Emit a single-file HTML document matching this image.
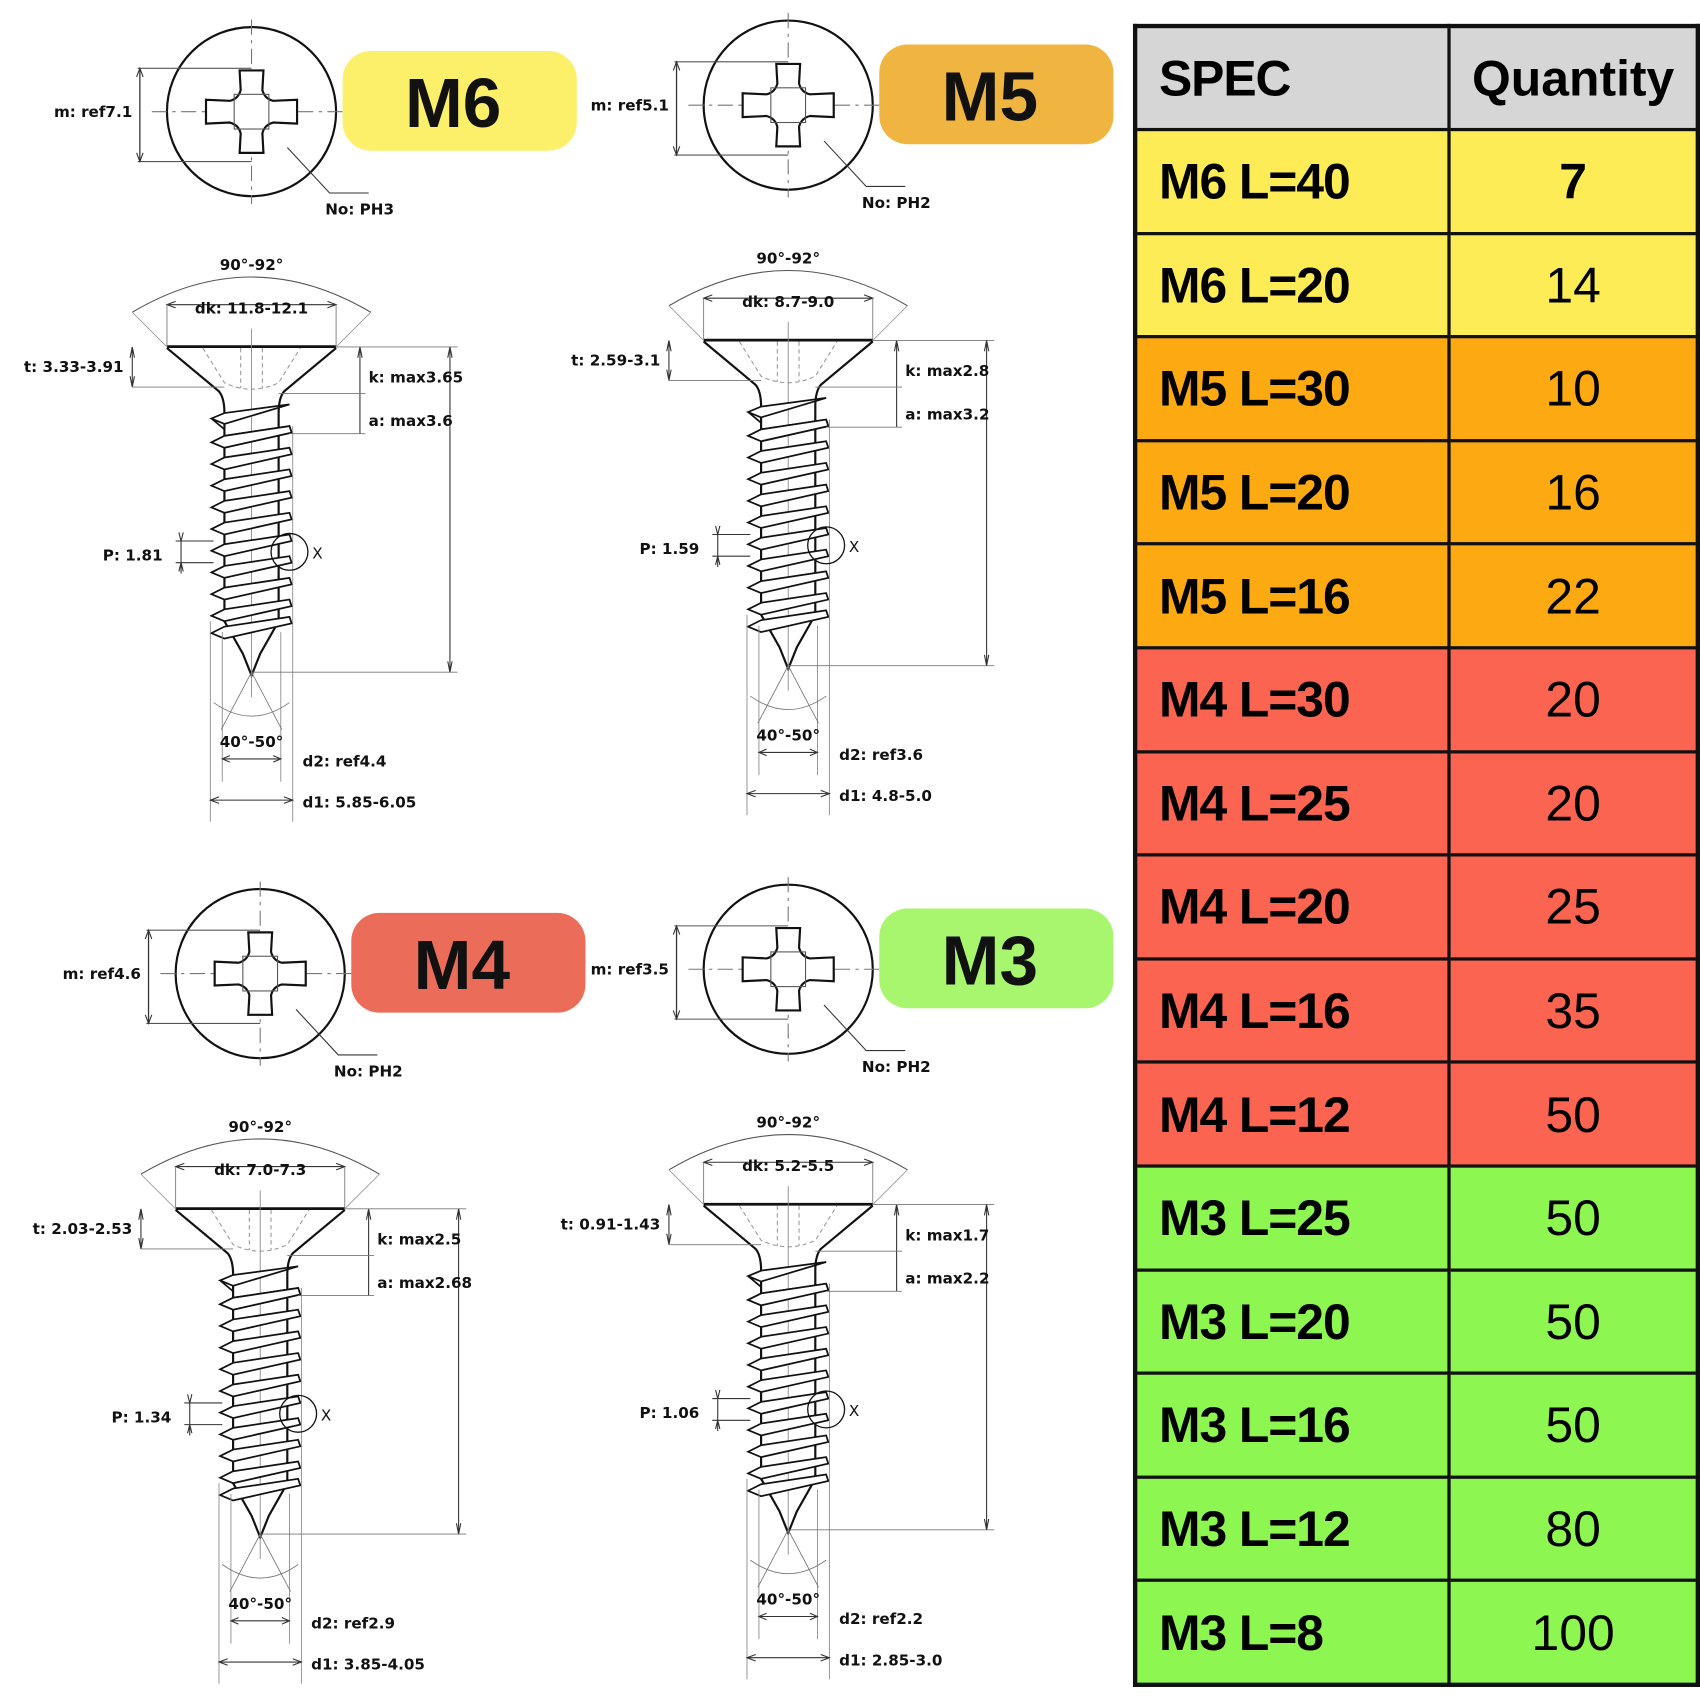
<!DOCTYPE html>
<html><head><meta charset="utf-8">
<style>
html,body{margin:0;padding:0;background:#fff;width:1700px;height:1700px;overflow:hidden}
#wrap{position:absolute;left:0;top:0;width:1568px;height:1568px;transform:scale(1.08418);transform-origin:0 0}
svg{position:absolute;left:0;top:0}
svg text{font-family:"DejaVu Sans","Liberation Sans",sans-serif;font-weight:bold;font-size:14px;fill:#111}
.badge text{font-family:"Liberation Sans",sans-serif;font-size:64px;font-weight:bold}
table{position:absolute;left:1045px;top:22px;border-collapse:collapse;font-family:"Liberation Sans",sans-serif;border:4px solid #111}
td{border:3px solid #111;height:92.6px;padding:0;font-size:46px}
td.s{width:266px;padding-left:20px;font-weight:bold;letter-spacing:-1px}
td.q{width:226px;text-align:center}
tr.h td{background:#d6d6d6;font-weight:bold;height:92px}
tr.y td{background:#fdec55}
tr.o td{background:#fca912}
tr.r td{background:#fb6450}
tr.g td{background:#8ef650}
</style></head><body>
<div id="wrap">
<svg id="draw" width="1040" height="1568">
<defs>
<g id="headview">
<circle cx="0" cy="0" r="78" fill="none" stroke="#111" stroke-width="2"/>
<line x1="-92" y1="0" x2="92" y2="0" stroke="#777" stroke-width="1" stroke-dasharray="14 5 3 5"/>
<line x1="0" y1="-85" x2="0" y2="85" stroke="#777" stroke-width="1" stroke-dasharray="14 5 3 5"/>
<path d="M-11,-38 H11 L10,-20 Q12,-12 20,-10 L42,-11 V11 L20,10 Q12,12 10,20 L11,38 H-11 L-10,20 Q-12,12 -20,10 L-42,11 V-11 L-20,-10 Q-12,-12 -10,-20 Z" fill="#fff" stroke="#111" stroke-width="2"/>
<rect x="-16" y="-16" width="32" height="32" fill="none" stroke="#555" stroke-width="1"/>
<line x1="-105" y1="-40" x2="0" y2="-40" stroke="#555" stroke-width="1"/>
<line x1="-105" y1="46" x2="0" y2="46" stroke="#555" stroke-width="1"/>
<line x1="-103" y1="-40" x2="-103" y2="46" stroke="#333" stroke-width="1.2"/>
<path d="M-106,-32 L-103,-40 L-100,-32 M-106,38 L-103,46 L-100,38" fill="none" stroke="#333"/>
<path d="M33,33 L72,75 H108" fill="none" stroke="#333" stroke-width="1"/>
</g>
<g id="screw" fill="none" stroke="#111">
<path d="M-78,217 H78" stroke-width="3"/>
<path d="M-78,218 L-30,258 Q-25,264 -25,278 V470 L-8,500 L0,520 L8,500 L25,470 V278 Q25,264 30,258 L78,218" stroke-width="2" fill="#fff"/>
<path d="M-45,218 L-25,250 Q0,262 25,250 L45,218 M-10,218 V255 M10,218 V255" stroke="#999" stroke-dasharray="4 3" stroke-width="1"/>
<line x1="0" y1="200" x2="0" y2="540" stroke="#888" stroke-width="0.8"/>
<path d="M-37,283 L-25,278 L35,270 L-25,288 Z M-37,283 L-25,293" stroke-width="1.6" fill="#fff"/>
<g id="thr">
<path d="M-37,305 L-25,299 L35,290 L37,296 L-25,310 Z" stroke-width="1.6" fill="#fff"/>
</g>
<use href="#thr" y="0"/><use href="#thr" y="20"/><use href="#thr" y="40"/><use href="#thr" y="60"/><use href="#thr" y="80"/><use href="#thr" y="100"/><use href="#thr" y="120"/><use href="#thr" y="140"/><use href="#thr" y="160"/><use href="#thr" y="176"/>
<line x1="-38" y1="470" x2="-38" y2="655" stroke="#888" stroke-width="0.8"/>
<line x1="38" y1="290" x2="38" y2="655" stroke="#888" stroke-width="0.8"/>
<line x1="-27" y1="480" x2="-27" y2="618" stroke="#888" stroke-width="0.8"/>
<line x1="27" y1="480" x2="27" y2="618" stroke="#888" stroke-width="0.8"/>
<path d="M-110,217 V254 M-112,227 L-110,217 L-108,227 M-112,244 L-110,254 L-108,244" stroke="#333" stroke-width="1"/>
<path d="M-110,254 H-25" stroke="#777" stroke-width="0.8"/>
<path d="M100,217 V297 M98,227 L100,217 L102,227" stroke="#333" stroke-width="1"/>
<path d="M25,260 H105 M35,297 H105 M78,217 H190 M0,517 H190" stroke="#777" stroke-width="0.8"/>
<path d="M183,217 V517 M181,227 L183,217 L185,227 M181,507 L183,517 L185,507" stroke="#333" stroke-width="1"/>
<path d="M-65,396 V426 M-70,396 H-35 M-70,416 H-35 M-67,388 L-65,396 L-63,388 M-67,424 L-65,416 L-63,424" stroke="#333" stroke-width="1"/>
<circle cx="35" cy="406" r="17" stroke-width="1.2"/>
<path d="M-78,178 H78 M-70,175 L-78,178 L-70,181 M70,175 L78,178 L70,181" stroke="#333" stroke-width="1"/>
<path d="M-78,178 V217 M78,178 V217" stroke="#777" stroke-width="0.8"/>
<path d="M-110,185 Q0,120 110,185" stroke="#555" stroke-width="1"/>
<path d="M-110,185 L-78,217 M110,185 L78,217" stroke="#999" stroke-width="0.8"/>
<path d="M-35,545 Q0,570 35,545 M0,517 L-28,570 M0,517 L28,570" stroke="#777" stroke-width="0.8"/>
<path d="M-27,597 H27 M-20,594 L-27,597 L-20,600 M20,594 L27,597 L20,600" stroke="#333" stroke-width="1"/>
<path d="M-38,635 H38 M-30,632 L-38,635 L-30,638 M30,632 L38,635 L30,638" stroke="#333" stroke-width="1"/>
</g>
</defs>
</svg>
<table>
<tr class="h"><td class="s">SPEC</td><td class="q">Quantity</td></tr>
<tr class="y"><td class="s">M6 L=40</td><td class="q"><b>7</b></td></tr>
<tr class="y"><td class="s">M6 L=20</td><td class="q">14</td></tr>
<tr class="o"><td class="s">M5 L=30</td><td class="q">10</td></tr>
<tr class="o"><td class="s">M5 L=20</td><td class="q">16</td></tr>
<tr class="o"><td class="s">M5 L=16</td><td class="q">22</td></tr>
<tr class="r"><td class="s">M4 L=30</td><td class="q">20</td></tr>
<tr class="r"><td class="s">M4 L=25</td><td class="q">20</td></tr>
<tr class="r"><td class="s">M4 L=20</td><td class="q">25</td></tr>
<tr class="r"><td class="s">M4 L=16</td><td class="q">35</td></tr>
<tr class="r"><td class="s">M4 L=12</td><td class="q">50</td></tr>
<tr class="g"><td class="s">M3 L=25</td><td class="q">50</td></tr>
<tr class="g"><td class="s">M3 L=20</td><td class="q">50</td></tr>
<tr class="g"><td class="s">M3 L=16</td><td class="q">50</td></tr>
<tr class="g"><td class="s">M3 L=12</td><td class="q">80</td></tr>
<tr class="g"><td class="s">M3 L=8</td><td class="q">100</td></tr>
</table>
</div>
<script>
var NS="http://www.w3.org/2000/svg";
var svg=document.getElementById('draw');
var panels=[
 {n:"M6",x:232,y:103,c:"#fcef6a",m:"m: ref7.1",no:"No: PH3",dk:"dk: 11.8-12.1",t:"t: 3.33-3.91",k:"k: max3.65",a:"a: max3.6",p:"P: 1.81",d2:"d2:  ref4.4",d1:"d1: 5.85-6.05"},
 {n:"M5",x:727,y:97,c:"#f0b441",m:"m: ref5.1",no:"No: PH2",dk:"dk: 8.7-9.0",t:"t: 2.59-3.1",k:"k: max2.8",a:"a: max3.2",p:"P: 1.59",d2:"d2:  ref3.6",d1:"d1: 4.8-5.0"},
 {n:"M4",x:240,y:898,c:"#eb6c58",m:"m: ref4.6",no:"No: PH2",dk:"dk: 7.0-7.3",t:"t: 2.03-2.53",k:"k: max2.5",a:"a: max2.68",p:"P: 1.34",d2:"d2:  ref2.9",d1:"d1: 3.85-4.05"},
 {n:"M3",x:727,y:894,c:"#a8f66e",m:"m: ref3.5",no:"No: PH2",dk:"dk: 5.2-5.5",t:"t: 0.91-1.43",k:"k: max1.7",a:"a: max2.2",p:"P: 1.06",d2:"d2:  ref2.2",d1:"d1: 2.85-3.0"}
];
function txt(g,s,x,y,anchor){var t=document.createElementNS(NS,'text');t.setAttribute('x',x);t.setAttribute('y',y);t.setAttribute('text-anchor',anchor||'start');t.textContent=s;g.appendChild(t);return t;}
panels.forEach(function(p){
 var g=document.createElementNS(NS,'g');
 g.setAttribute('transform','translate('+p.x+','+p.y+')');
 
 
 var u1=document.createElementNS(NS,'use');u1.setAttribute('href','#headview');g.appendChild(u1);
 var u2=document.createElementNS(NS,'use');u2.setAttribute('href','#screw');g.appendChild(u2);
 var b=document.createElementNS(NS,'g');b.setAttribute('class','badge');
 
 
 var r=document.createElementNS(NS,'rect');r.setAttribute('x',84);r.setAttribute('y',-56);r.setAttribute('width',216);r.setAttribute('height',92);r.setAttribute('rx',26);r.setAttribute('fill',p.c);b.appendChild(r);
 txt(b,p.n,186,14,'middle');g.appendChild(b);
 txt(g,p.m,-110,5,'end');
 txt(g,p.no,68,95);
 txt(g,"90°-92°",0,146,'middle');
 txt(g,p.dk,0,186,'middle');
 txt(g,p.t,-118,240,'end');
 txt(g,p.k,108,250);
 txt(g,p.a,108,290);
 txt(g,p.p,-82,414,'end');
 var x=txt(g,"X",56,412);x.style.fontWeight='normal';
 txt(g,"40°-50°",0,586,'middle');
 txt(g,p.d2,47,604);
 txt(g,p.d1,47,642);
 svg.appendChild(g);
});
</script>
</body></html>
